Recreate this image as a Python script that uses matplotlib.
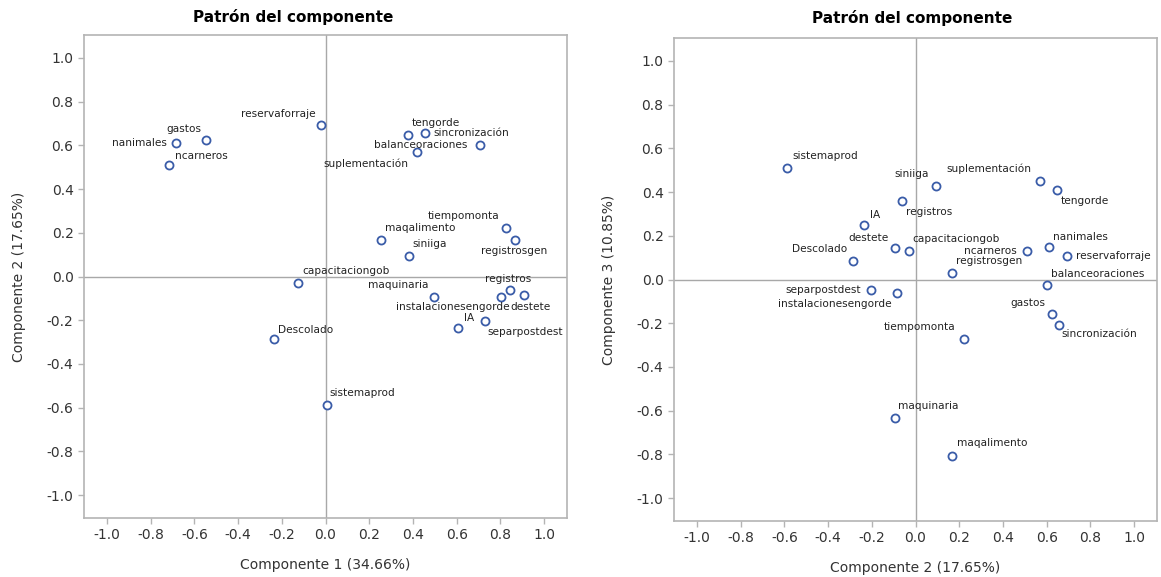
"""
Component pattern plots (loadings) for components 1-2 and 2-3.
"""

import matplotlib
matplotlib.use("Agg")
import matplotlib.pyplot as plt

variables = [
    "nanimales", "gastos", "ncarneros", "reservaforraje", "tengorde",
    "sincronización", "balanceoraciones", "suplementación", "tiempomonta",
    "registrosgen", "maqalimento", "siniiga", "capacitaciongob", "registros",
    "maquinaria", "destete", "instalacionesengorde", "IA", "separpostdest",
    "Descolado", "sistemaprod",
]
comp1 = [-0.683, -0.547, -0.714, -0.020, 0.376, 0.457, 0.705, 0.417, 0.824,
         0.866, 0.252, 0.384, -0.128, 0.842, 0.497, 0.801, 0.910, 0.606,
         0.728, -0.237, 0.005]
comp2 = [0.610, 0.625, 0.512, 0.695, 0.649, 0.655, 0.603, 0.568, 0.221,
         0.167, 0.167, 0.093, -0.032, -0.060, -0.095, -0.095, -0.083, -0.237,
         -0.204, -0.286, -0.587]
comp3 = [0.148, -0.156, 0.132, 0.109, 0.411, -0.208, -0.024, 0.451, -0.271,
         0.032, -0.807, 0.428, 0.130, 0.357, -0.633, 0.142, -0.064, 0.249,
         -0.047, 0.084, 0.509]

ticks = [-1.0, -0.8, -0.6, -0.4, -0.2, 0.0, 0.2, 0.4, 0.6, 0.8, 1.0]
xlabel_left = "Componente 1 (34.66%)"
ylabel_left = "Componente 2 (17.65%)"
xlabel_right = "Componente 2 (17.65%)"
ylabel_right = "Componente 3 (10.85%)"
title = "Patrón del componente"

# label placement: (ha, dx, dy) in pixels from the marker
LEFT_LABELS = {
    "nanimales": ("right", -9, 0), "gastos": ("right", -5, 11),
    "ncarneros": ("left", 6, 9), "reservaforraje": ("right", -6, 11),
    "tengorde": ("left", 4, 12), "sincronización": ("left", 8, 0),
    "balanceoraciones": ("right", -12, 0), "suplementación": ("right", -8, -11),
    "tiempomonta": ("right", -6, 12), "registrosgen": ("center", -1, -11),
    "maqalimento": ("left", 4, 12), "siniiga": ("left", 3, 12),
    "capacitaciongob": ("left", 5, 12), "registros": ("center", -1, 11),
    "maquinaria": ("right", -6, 12), "destete": ("left", 10, -10),
    "instalacionesengorde": ("right", -15, -12), "IA": ("left", 6, 10),
    "separpostdest": ("left", 3, -11), "Descolado": ("left", 4, 9),
    "sistemaprod": ("left", 3, 12),
}
RIGHT_LABELS = {
    "sistemaprod": ("left", 5, 12), "siniiga": ("right", -7, 12),
    "registros": ("left", 4, -11), "IA": ("left", 6, 10),
    "destete": ("right", -6, 10), "capacitaciongob": ("left", 4, 12),
    "Descolado": ("right", -6, 12), "separpostdest": ("right", -10, 0),
    "instalacionesengorde": ("right", -6, -11), "suplementación": ("right", -8, 12),
    "tengorde": ("left", 3, -11), "ncarneros": ("right", -11, 0),
    "nanimales": ("left", 4, 10), "reservaforraje": ("left", 9, 0),
    "registrosgen": ("left", 4, 12), "balanceoraciones": ("left", 4, 11),
    "gastos": ("right", -7, 11), "sincronización": ("left", 3, -9),
    "tiempomonta": ("right", -8, 12), "maquinaria": ("left", 3, 12),
    "maqalimento": ("left", 5, 13),
}

W, H = 1161, 577
FRAME = "#b4b4b4"
REF = "#a8a8a8"
MARK = "#3a5ca8"
TXT = "#222222"


def pattern(ax, xs, ys, labels, xlabel, ylabel):
    ax.axhline(0, color=REF, lw=1, zorder=1)
    ax.axvline(0, color=REF, lw=1, zorder=1)
    ax.plot(xs, ys, "o", ms=5.8, mfc="white", mec=MARK, mew=1.3, ls="none", zorder=3)
    for name, x, y in zip(variables, xs, ys):
        ha, dx, dy = labels[name]
        ax.annotate(name, (x, y), xytext=(dx, dy), textcoords="offset pixels",
                    ha=ha, va="center", fontsize=7.6, color=TXT, zorder=4)
    ax.set_xlim(-1.105, 1.105)
    ax.set_ylim(-1.105, 1.105)
    ax.set_xticks(ticks)
    ax.set_yticks(ticks)
    ax.set_xticklabels([f"{t:.1f}" for t in ticks])
    ax.set_yticklabels([f"{t:.1f}" for t in ticks])
    ax.tick_params(colors=FRAME, labelcolor="#333333", labelsize=10, length=4, width=1)
    for s in ax.spines.values():
        s.set_color(FRAME)
        s.set_linewidth(1.2)
    ax.set_xlabel(xlabel, fontsize=10, color="#333333", labelpad=11.5)
    ax.set_ylabel(ylabel, fontsize=10, color="#333333", labelpad=15)


fig = plt.figure(figsize=(W / 100, H / 100), dpi=100)
fig.patch.set_facecolor("white")

ax1 = fig.add_axes([84 / W, 1 - 518 / H, 483 / W, 483 / H])
ax2 = fig.add_axes([674 / W, 1 - 521 / H, 483 / W, 483 / H])

pattern(ax1, comp1, comp2, LEFT_LABELS, xlabel_left, ylabel_left)
pattern(ax2, comp2, comp3, RIGHT_LABELS, xlabel_right, ylabel_right)

fig.text(293 / W, 1 - 17 / H, title, ha="center", va="center",
         fontsize=11, fontweight="bold", color="black")
fig.text(912 / W, 1 - 18 / H, title, ha="center", va="center",
         fontsize=11, fontweight="bold", color="black")

fig.savefig("out.png", dpi=100)
